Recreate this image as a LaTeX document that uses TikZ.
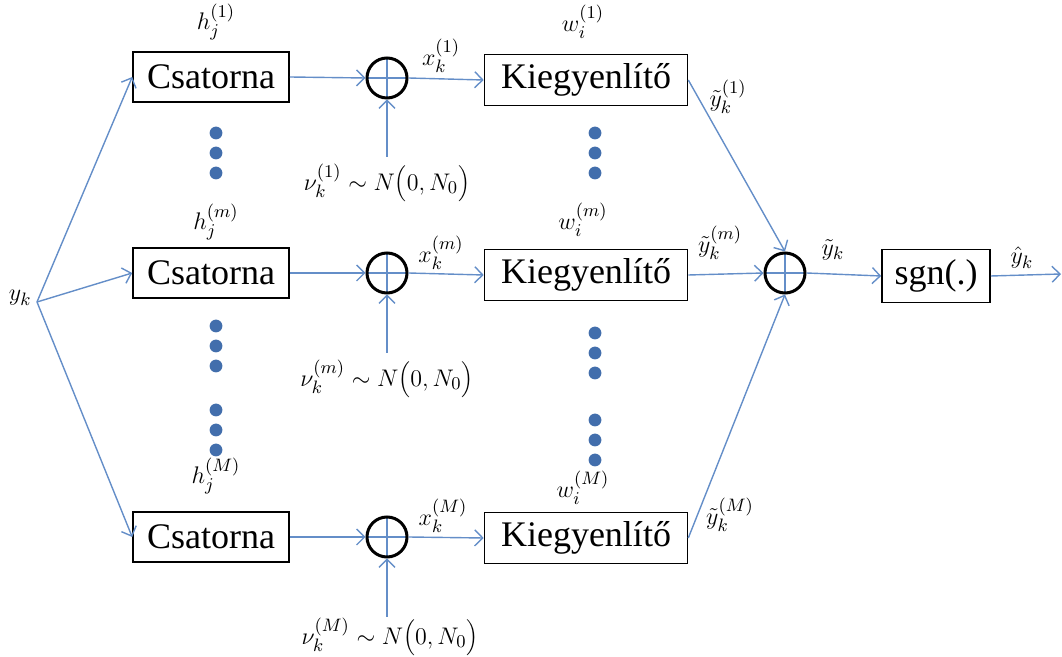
\documentclass[tikz,border=0pt]{standalone}
\usepackage{fontspec}
\setmainfont{Liberation Serif}
\usetikzlibrary{arrows.meta}
\definecolor{linecol}{RGB}{100,142,200}
\definecolor{dotcol}{RGB}{66,110,172}
\begin{document}
\begin{tikzpicture}[x=0.5pt,y=-0.5pt,
  blk/.style={draw,line width=0.8pt,inner sep=0pt,font=\fontsize{18}{20}\selectfont},
  sum/.style={circle,draw,line width=1.5pt,minimum size=20pt,inner sep=0pt,
    path picture={\draw[linecol,line width=0.7pt] (path picture bounding box.north)--(path picture bounding box.south)
      (path picture bounding box.west)--(path picture bounding box.east);}},
  sig/.style={linecol,line width=0.7pt,-{Straight Barb[length=4pt,width=8pt]}},
  lab/.style={font=\fontsize{12.5}{14}\selectfont,inner sep=0pt}]
\useasboundingbox (0,0) rectangle (1062,657);
% channels and equalizers
\node[blk,minimum width=78pt,minimum height=25pt] (c1) at (211,77){Csatorna};
\node[blk,minimum width=78pt,minimum height=25pt] (c2) at (211,273){Csatorna};
\node[blk,minimum width=78pt,minimum height=25pt] (c3) at (211,537){Csatorna};
\node[blk,minimum width=101.5pt,minimum height=25.5pt] (k1) at (586,80){Kiegyenlítő};
\node[blk,minimum width=101.5pt,minimum height=25.5pt] (k2) at (586,275){Kiegyenlítő};
\node[blk,minimum width=101.5pt,minimum height=25.5pt] (k3) at (586,538){Kiegyenlítő};
\node[blk,minimum width=54pt,minimum height=26.5pt] (sg) at (936,276){sgn(.)};
\node[sum] (s1) at (387,78){};\node[sum] (s2) at (387,273){};\node[sum] (s3) at (387,537){};
\node[sum] (st) at (785,273){};
% input
\coordinate (src) at (37,302);
\node[lab,left] (yk) at (32,298){$y_k$};
\foreach \i in {1,2,3} \draw[sig] (src)--(c\i.west);
\foreach \i in {1,2,3} \draw[sig] (c\i.east)--(s\i.west);
\foreach \i in {1,2,3} \draw[sig] (s\i.east)--(k\i.west);
% noise
\coordinate (n1) at (387,157);\coordinate (n2) at (387,353);\coordinate (n3) at (387,617);
\foreach \i in {1,2,3} \draw[sig] (n\i)--(s\i.south);
\node[lab] (v1) at (387,183){$\nu_k^{(1)}\sim N\Bigl(0,N_0\Bigr)$};
\node[lab] (v2) at (387,379){$\nu_k^{(m)}\sim N\Bigl(0,N_0\Bigr)$};
\node[lab] (v3) at (390,637){$\nu_k^{(M)}\sim N\Bigl(0,N_0\Bigr)$};
% combiner and decision
\draw[sig] (k1.east)--(st.north);
\draw[sig] (k2.east)--(st.west);
\draw[sig] (k3.east)--(st.south);
\draw[sig] (st.east)--(sg.west);
\coordinate (out) at (1061,274);
\draw[sig] (sg.east)--(out);
% labels
\node[lab] (h1) at (216,22){$h_j^{(1)}$};\node[lab] (h2) at (216,222){$h_j^{(m)}$};\node[lab] (h3) at (216,476){$h_j^{(M)}$};
\node[lab] (w1) at (583,22){$w_i^{(1)}$};\node[lab] (w2) at (583,220){$w_i^{(m)}$};\node[lab] (w3) at (583,488){$w_i^{(M)}$};
\node[lab] (x1) at (441,56){$x_k^{(1)}$};\node[lab] (x2) at (441,253){$x_k^{(m)}$};\node[lab] (x3) at (443,516){$x_k^{(M)}$};
\node[lab] (t1) at (728,97){$\tilde y_k^{(1)}$};\node[lab] (t2) at (720,243){$\tilde y_k^{(m)}$};\node[lab] (t3) at (730,515){$\tilde y_k^{(M)}$};
\node[lab] (tk) at (833,250){$\tilde y_k$};
\node[lab] (hk) at (1022,258){$\hat y_k$};
% dots
\foreach \y in {133,153,173,326,346,366,410,430,450} \fill[dotcol] (216,\y) circle (3.2pt);
\foreach \y in {133,153,173,333,353,373,420,440,460} \fill[dotcol] (595,\y) circle (3.2pt);
\end{tikzpicture}
\end{document}
